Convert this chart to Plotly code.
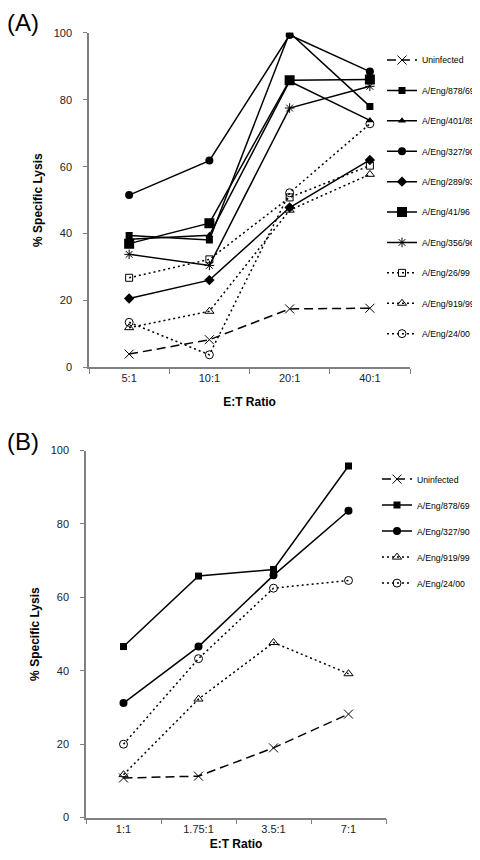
import plotly.graph_objects as go

# ---------------- data ----------------
cats_a = ["5:1", "10:1", "20:1", "40:1"]
cats_b = ["1:1", "1.75:1", "3.5:1", "7:1"]

names_a = ["Uninfected", "A/Eng/878/69", "A/Eng/401/85", "A/Eng/327/90", "A/Eng/289/93",
           "A/Eng/41/96", "A/Eng/356/96", "A/Eng/26/99", "A/Eng/919/99", "A/Eng/24/00"]
uninf_a = [4.0, 8.3, 17.5, 17.7]
eng878_a = [39.4, 38.1, 100.0, 78.0]
eng401_a = [38.3, 39.5, 85.5, 73.8]
eng327_a = [51.5, 61.8, 99.3, 88.4]
eng289_a = [20.6, 26.1, 47.8, 62.0]
eng41_a = [37.0, 43.1, 85.8, 86.0]
eng356_a = [33.8, 30.5, 77.5, 84.0]
eng26_a = [26.8, 32.3, 50.8, 60.3]
eng919_a = [11.9, 16.8, 47.0, 57.7]
eng24_a = [13.5, 3.8, 52.2, 72.8]

names_b = ["Uninfected", "A/Eng/878/69", "A/Eng/327/90", "A/Eng/919/99", "A/Eng/24/00"]
uninf_b = [10.8, 11.3, 19.0, 28.2]
eng878_b = [46.6, 65.8, 67.6, 95.8]
eng327_b = [31.2, 46.6, 66.0, 83.6]
eng919_b = [11.7, 32.3, 47.7, 39.2]
eng24_b = [20.0, 43.3, 62.5, 64.6]

y_ticks = [0, 20, 40, 60, 80, 100]

# ---------------- styles ----------------
FONT = "Arial, Liberation Sans, sans-serif"
SOLID = dict(color="black", width=1.5)
DASH = dict(color="black", width=1.5, dash="9px,5px")
DOT = dict(color="black", width=1.5, dash="2px,3px")

styles = {
    "Uninfected": (DASH, dict(symbol="x-thin-open", size=9, line=dict(width=1, color="black"))),
    "A/Eng/878/69": (SOLID, dict(symbol="square", size=7, color="black")),
    "A/Eng/401/85": (SOLID, dict(symbol="triangle-up", size=7, color="black")),
    "A/Eng/327/90": (SOLID, dict(symbol="circle", size=8, color="black")),
    "A/Eng/289/93": (SOLID, dict(symbol="diamond", size=8, color="black")),
    "A/Eng/41/96": (SOLID, dict(symbol="square", size=10, color="black")),
    "A/Eng/356/96": (SOLID, dict(symbol="asterisk-open", size=8, line=dict(width=1, color="black"))),
    "A/Eng/26/99": (DOT, dict(symbol="square-open", size=7, color="black", line=dict(width=1))),
    "A/Eng/919/99": (DOT, dict(symbol="triangle-up-open", size=8, color="black", line=dict(width=1))),
    "A/Eng/24/00": (DOT, dict(symbol="circle-open", size=8, color="black", line=dict(width=1))),
}

series_a = [uninf_a, eng878_a, eng401_a, eng327_a, eng289_a, eng41_a, eng356_a, eng26_a, eng919_a, eng24_a]
series_b = [uninf_b, eng878_b, eng327_b, eng919_b, eng24_b]

fig = go.Figure()
for i, (n, vals) in enumerate(zip(names_a, series_a)):
    ln, mk = styles[n]
    fig.add_trace(go.Scatter(x=cats_a, y=vals, name=n, mode="lines+markers", line=ln, marker=mk,
                             xaxis="x", yaxis="y", legend="legend", legendgroup="a%d" % i))
for i, (n, vals) in enumerate(zip(names_b, series_b)):
    ln, mk = styles[n]
    fig.add_trace(go.Scatter(x=cats_b, y=vals, name=n, mode="lines+markers", line=ln, marker=mk,
                             xaxis="x2", yaxis="y2", legend="legend2", legendgroup="b%d" % i))

W, H = 480, 860
def px(x):
    return x / W
def py(y):
    return 1 - y / H

axis_common = dict(showline=True, linecolor="#808080", linewidth=1.5, showgrid=False, zeroline=False,
                   ticks="outside", tickcolor="#808080", tickwidth=1, ticklen=5,
                   tickfont=dict(family=FONT, size=11, color="#222"))

def xaxis_def(standoff):
    return dict(axis_common, type="category", tickson="boundaries", range=[-0.5, 3.5],
                title=dict(text="<b>E:T Ratio</b>", font=dict(family=FONT, size=12, color="black"),
                           standoff=standoff))

ya = dict(axis_common, range=[0, 100], tickvals=y_ticks, ticklen=4, ticklabelstandoff=9,
          title=dict(text="<b>% Specific Lysis</b>", font=dict(family=FONT, size=12, color="black"), standoff=8))

fig.update_layout(
    width=W, height=H, margin=dict(l=0, r=0, t=0, b=0),
    paper_bgcolor="white", plot_bgcolor="white",
    font=dict(family=FONT, color="black"),
    xaxis=dict(xaxis_def(14), domain=[px(81), px(402)], anchor="y"),
    yaxis=dict(ya, domain=[py(358.5), py(19)], anchor="x"),
    xaxis2=dict(xaxis_def(6), domain=[px(78), px(378)], anchor="y2", categoryorder="array",
                categoryarray=cats_b),
    yaxis2=dict(ya, domain=[py(815), py(442.7)], anchor="x2"),
    legend=dict(x=px(374), y=py(32), xanchor="left", yanchor="top", bgcolor="rgba(0,0,0,0)",
                font=dict(family=FONT, size=8.7, color="black"), itemwidth=30, tracegroupgap=11.4,
                itemclick=False),
    legend2=dict(x=px(369), y=py(457), xanchor="left", yanchor="top", bgcolor="rgba(0,0,0,0)",
                 font=dict(family=FONT, size=8.7, color="black"), itemwidth=30, tracegroupgap=7,
                 itemclick=False),
    showlegend=True,
    annotations=[
        dict(text="(A)", x=0, y=1, xref="paper", yref="paper", xanchor="left", yanchor="top",
             showarrow=False, font=dict(family=FONT, size=24, color="black"), xshift=-3, yshift=7),
        dict(text="(B)", x=0, y=py(422), xref="paper", yref="paper", xanchor="left", yanchor="top",
             showarrow=False, font=dict(family=FONT, size=24, color="black"), xshift=-3, yshift=4),
    ],
)

fig.write_html("out.html")
